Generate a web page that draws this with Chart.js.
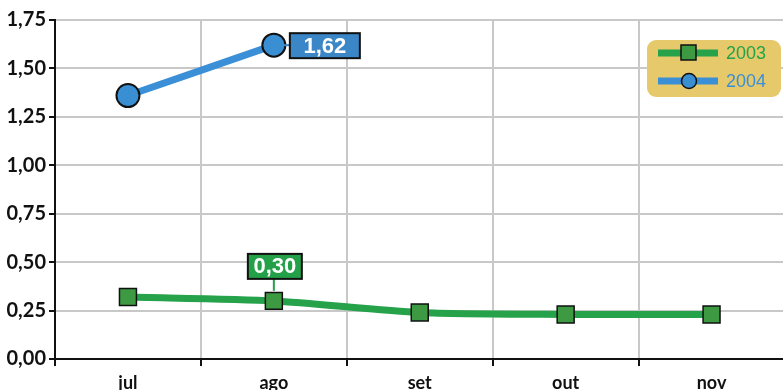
<!DOCTYPE html>
<html>
<head>
<meta charset="utf-8">
<script src="https://cdn.jsdelivr.net/npm/chart.js@4.4.1/dist/chart.umd.min.js"></script>
<style>
  html, body { margin: 0; padding: 0; background: #fff; overflow: hidden; }
  #wrap { width: 798px; height: 400px; }
</style>
</head>
<body>
<div id="wrap"><canvas id="chart"></canvas></div>
<script>
// --- data ---
const months = ['jul', 'ago', 'set', 'out', 'nov'];
const values2003 = [0.32, 0.30, 0.24, 0.23, 0.23];
const values2004 = [1.36, 1.62, null, null, null];
const yTicks = [0, 0.25, 0.5, 0.75, 1, 1.25, 1.5, 1.75];

const green = '#25a24a';
const greenMark = '#3e9a42';
const blue = '#3b8fd6';
const blueMark = '#3a8fd3';

const fmt = v => v.toFixed(2).replace('.', ',');

// value boxes next to chosen points
const valueBoxes = {
    id: 'valueBoxes',
    afterDatasetsDraw(chart) {
        const ctx = chart.ctx;
        const boxes = [
            { ds: 1, i: 1, fill: '#3a86c6', dx: 16, dy: -12, w: 70, h: 25 },
            { ds: 0, i: 1, fill: '#24a049', dx: -26, dy: -47, w: 54, h: 25 }
        ];
        ctx.save();
        boxes.forEach(b => {
            const pt = chart.getDatasetMeta(b.ds).data[b.i];
            const v = chart.data.datasets[b.ds].data[b.i];
            const x = pt.x + b.dx, y = pt.y + b.dy;
            ctx.strokeStyle = b.fill;
            ctx.lineWidth = 2;
            ctx.beginPath();
            if (b.ds === 1) { ctx.moveTo(pt.x + 10, pt.y); ctx.lineTo(x, pt.y); }
            else { ctx.moveTo(pt.x, y + b.h); ctx.lineTo(pt.x, pt.y - 10); }
            ctx.stroke();
            ctx.fillStyle = b.fill;
            ctx.fillRect(x, y, b.w, b.h);
            ctx.strokeStyle = '#111';
            ctx.lineWidth = 2;
            ctx.strokeRect(x, y, b.w, b.h);
            ctx.fillStyle = '#fff';
            ctx.font = 'bold 22px "Liberation Sans", Arial, sans-serif';
            ctx.textAlign = 'center';
            ctx.textBaseline = 'middle';
            ctx.fillText(fmt(v), x + b.w / 2, y + b.h / 2 + 1);
        });
        ctx.restore();
    }
};

// legend box in the upper right
const legendBox = {
    id: 'legendBox',
    afterDraw(chart) {
        const ctx = chart.ctx;
        ctx.save();
        ctx.fillStyle = '#e6c96a';
        ctx.beginPath();
        ctx.roundRect(647, 40, 134, 57, 9);
        ctx.fill();
        const items = [
            { label: '2003', line: green, mark: greenMark, style: 'rect', y: 53 },
            { label: '2004', line: blue, mark: blueMark, style: 'circle', y: 81 }
        ];
        items.forEach(it => {
            ctx.strokeStyle = it.line;
            ctx.lineWidth = 7;
            ctx.beginPath();
            ctx.moveTo(658, it.y);
            ctx.lineTo(718, it.y);
            ctx.stroke();
            ctx.fillStyle = it.mark;
            ctx.strokeStyle = '#111';
            ctx.lineWidth = 1.5;
            ctx.beginPath();
            if (it.style === 'rect') ctx.rect(681, it.y - 8, 15, 15);
            else ctx.arc(689, it.y, 7.5, 0, Math.PI * 2);
            ctx.fill();
            ctx.stroke();
            ctx.fillStyle = it.line;
            ctx.font = '18px "Liberation Sans", Arial, sans-serif';
            ctx.textAlign = 'left';
            ctx.textBaseline = 'middle';
            ctx.fillText(it.label, 726, it.y + 1);
        });
        ctx.restore();
    }
};

new Chart(document.getElementById('chart'), {
    type: 'line',
    data: {
        labels: months,
        datasets: [
            {
                label: '2003',
                data: values2003,
                borderColor: green,
                borderWidth: 7,
                backgroundColor: greenMark,
                pointStyle: 'rect',
                pointRadius: 12,
                pointBorderColor: '#111',
                pointBorderWidth: 1.5,
                tension: 0.25
            },
            {
                label: '2004',
                data: values2004,
                borderColor: blue,
                borderWidth: 7,
                backgroundColor: blueMark,
                pointStyle: 'circle',
                pointRadius: 11.5,
                pointBorderColor: '#111',
                pointBorderWidth: 2,
                tension: 0.25
            }
        ]
    },
    options: {
        responsive: true,
        maintainAspectRatio: false,
        animation: false,
        layout: { padding: { top: 20, right: 3, left: 0, bottom: 0 } },
        plugins: {
            legend: { display: false },
            tooltip: { enabled: false }
        },
        scales: {
            x: {
                offset: true,
                grid: { color: '#c8c8c8', lineWidth: 2, offset: true, tickColor: '#111', tickLength: 7 },
                border: { color: '#111', width: 2 },
                ticks: {
                    color: '#111',
                    padding: 6,
                    font: { family: 'Lato, "DejaVu Sans", sans-serif', weight: 'bold', size: 18 }
                },
                afterFit(scale) { scale.height = 41; }
            },
            y: {
                min: 0,
                max: 1.75,
                afterBuildTicks(scale) { scale.ticks = yTicks.map(v => ({ value: v })); },
                grid: { color: '#c8c8c8', lineWidth: 2, tickColor: '#111', tickLength: 6 },
                border: { color: '#111', width: 2 },
                ticks: {
                    color: '#111',
                    padding: 3,
                    font: { family: 'Lato, "DejaVu Sans", sans-serif', weight: 'bold', size: 20 },
                    callback: v => fmt(v)
                },
                afterFit(scale) { scale.width = 55; }
            }
        }
    },
    plugins: [valueBoxes, legendBox]
});
</script>
</body>
</html>
